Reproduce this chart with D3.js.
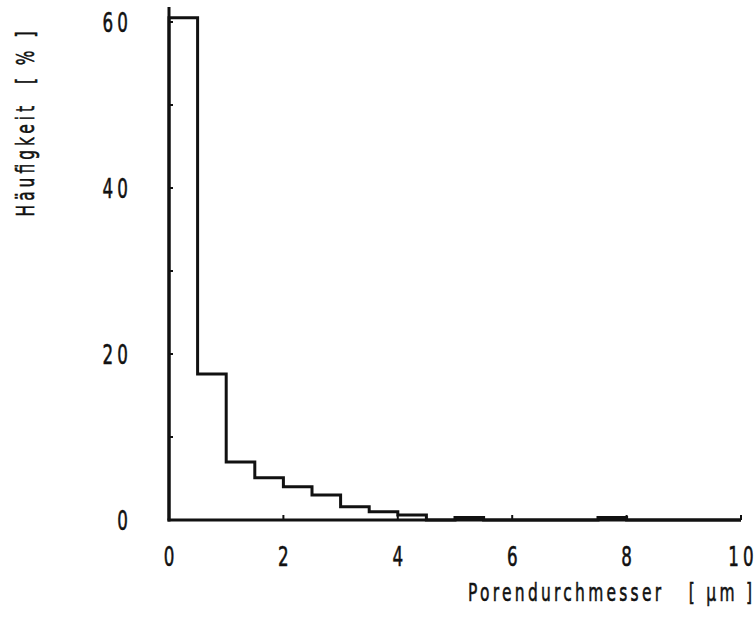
<!DOCTYPE html>
<html>
<head>
<meta charset="utf-8">
<script src="https://cdn.jsdelivr.net/npm/d3@7"></script>
<style>
  body { margin: 0; background: #fff; }
  svg { display: block; }
  text { font-family: "DejaVu Sans", sans-serif; fill: #111; stroke: #111; stroke-width: 0.6; white-space: pre; }
</style>
</head>
<body>
<svg width="756" height="621"></svg>
<script>
document.addEventListener("DOMContentLoaded", function() {
    const svg = d3.select("svg");

    // bin starts (µm), width 0.5
    const binStarts = [0, 0.5, 1, 1.5, 2, 2.5, 3, 3.5, 4, 4.5, 5, 5.5, 6, 6.5, 7, 7.5, 8, 8.5, 9, 9.5];
    const freq = [60.5, 17.6, 7.0, 5.1, 4.0, 3.0, 1.6, 1.0, 0.6, 0, 0.3, 0, 0, 0, 0, 0.3, 0, 0, 0, 0];
    const binWidth = 0.5;
    const xTicks = [0, 2, 4, 6, 8, 10];
    const yTicks = [0, 20, 40, 60];
    const yMinorTicks = [10, 30, 50];

    const x = d3.scaleLinear().domain([0, 10]).range([169, 741]);
    const y = d3.scaleLinear().domain([0, 60]).range([520, 22]);

    const ink = "#111";
    const sx = 0.62; // narrow the glyphs like the original lettering

    // narrow text: g scaled horizontally, textLength stretches the spacing
    function label(px, py, str, size, width, anchor, rotate) {
        const g = svg.append("g")
            .attr("transform", `translate(${px},${py})` + (rotate ? " rotate(-90)" : "") + ` scale(${sx},1)`);
        const t = g.append("text")
            .attr("font-size", size)
            .attr("text-anchor", anchor)
            .text(str);
        if (width) t.attr("textLength", width / sx).attr("lengthAdjust", "spacing");
        return t;
    }

    // axes lines
    svg.append("line")
        .attr("x1", x(0)).attr("x2", x(0))
        .attr("y1", y(0) + 1.5).attr("y2", y(61.8))
        .attr("stroke", ink).attr("stroke-width", 3);
    svg.append("line")
        .attr("x1", x(0) - 1.5).attr("x2", x(10))
        .attr("y1", y(0)).attr("y2", y(0))
        .attr("stroke", ink).attr("stroke-width", 3);

    // y ticks (inward)
    svg.append("g").selectAll("line")
        .data(yTicks.concat(yMinorTicks))
        .enter().append("line")
        .attr("x1", x(0)).attr("x2", x(0) + 4)
        .attr("y1", d => y(d)).attr("y2", d => y(d))
        .attr("stroke", ink).attr("stroke-width", 2);

    // x ticks (upward)
    svg.append("g").selectAll("line")
        .data(xTicks)
        .enter().append("line")
        .attr("x1", d => x(d)).attr("x2", d => x(d))
        .attr("y1", y(0)).attr("y2", y(0) - 5)
        .attr("stroke", ink).attr("stroke-width", 2);

    const labW = s => String(s).length * 10.5 + (String(s).length - 1) * 4.5;

    // y tick labels
    yTicks.forEach(d => {
        const s = String(d);
        label(128, y(d) + 10, s, 27, s.length > 1 ? labW(s) : null, "end");
    });

    // x tick labels
    xTicks.forEach(d => {
        const s = String(d);
        label(x(d), 566, s, 27, s.length > 1 ? labW(s) : null, "middle");
    });

    // histogram outline
    const pts = [[0, 0]].concat(binStarts.map((b, i) => [b, freq[i]]), [[binStarts[binStarts.length - 1] + binWidth, 0]]);
    const line = d3.line()
        .x(d => x(d[0]))
        .y(d => y(d[1]))
        .curve(d3.curveStepAfter);
    svg.append("path")
        .attr("d", line(pts))
        .attr("fill", "none")
        .attr("stroke", ink)
        .attr("stroke-width", 3);

    // axis titles
    label(34, 124, "Häufigkeit  [ % ]", 25, 185, "middle", true);
    label(468, 601, "Porendurchmesser   [ µm ]", 25, 284, "start");
});
</script>
</body>
</html>
